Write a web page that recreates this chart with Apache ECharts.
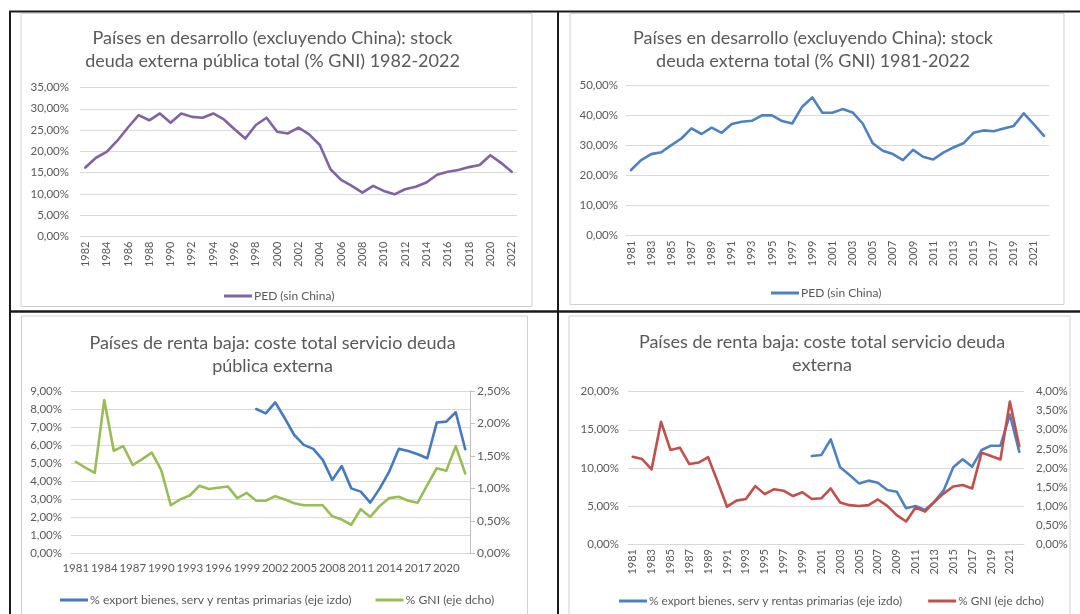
<!DOCTYPE html>
<html>
<head>
<meta charset="utf-8">
<script src="https://cdn.jsdelivr.net/npm/echarts@6/dist/echarts.min.js"></script>
<style>
  html, body { margin: 0; padding: 0; background: #ffffff; }
  #chart { width: 1080px; height: 614px; }
</style>
</head>
<body>
<div id="chart"></div>
<script>
// Year categories
const years1982 = ['1982','1983','1984','1985','1986','1987','1988','1989','1990','1991','1992','1993','1994','1995','1996','1997','1998','1999','2000','2001','2002','2003','2004','2005','2006','2007','2008','2009','2010','2011','2012','2013','2014','2015','2016','2017','2018','2019','2020','2021','2022'];
const years1981 = ['1981'].concat(years1982);

// Developing countries excl. China: public external debt stock, % GNI (1982-2022)
const pedPublicDebt = [16.2,18.5,19.9,22.5,25.6,28.5,27.3,28.9,26.7,28.9,28.1,27.9,28.9,27.5,25.2,23.0,26.2,27.9,24.6,24.2,25.6,24.0,21.5,15.8,13.3,11.9,10.3,11.9,10.7,9.9,11.1,11.7,12.7,14.5,15.2,15.6,16.3,16.8,19.1,17.3,15.2];

// Developing countries excl. China: total external debt stock, % GNI (1981-2022)
const pedTotalDebt = [21.9,25.2,27.2,27.8,30.2,32.4,35.8,33.9,36.0,34.3,37.2,38.0,38.3,40.1,40.1,38.2,37.4,43.0,46.1,41.0,41.0,42.2,41.1,37.4,30.8,28.3,27.2,25.2,28.6,26.3,25.4,27.7,29.4,30.8,34.3,35.1,34.8,35.7,36.6,40.8,37.1,33.3];

// Low income countries: public external debt service (1981-2022)
const lowPublicExports = [null,null,null,null,null,null,null,null,null,null,null,null,null,null,null,null,null,null,null,
  8.00,7.76,8.37,7.49,6.56,6.01,5.79,5.18,4.07,4.84,3.60,3.42,2.81,3.60,4.53,5.79,5.67,5.49,5.27,7.25,7.30,7.82,5.77];
const lowPublicGni = [1.41,1.32,1.24,2.36,1.58,1.65,1.36,1.45,1.55,1.28,0.74,0.83,0.89,1.04,0.99,1.01,1.03,0.85,0.93,0.81,0.81,0.88,0.83,0.77,0.74,0.74,0.74,0.57,0.52,0.44,0.68,0.56,0.73,0.85,0.87,0.81,0.78,1.05,1.31,1.27,1.65,1.23];

// Low income countries: total external debt service (1981-2022)
const lowTotalExports = [null,null,null,null,null,null,null,null,null,null,null,null,null,null,null,null,null,null,null,
  11.55,11.68,13.74,10.07,9.06,7.96,8.32,8.05,7.09,6.87,4.68,4.99,4.46,5.56,7.09,10.07,11.12,10.15,12.34,12.91,12.91,17.0,12.1];
const lowTotalGni = [2.29,2.23,1.96,3.21,2.47,2.53,2.10,2.14,2.28,1.64,0.98,1.14,1.18,1.52,1.31,1.44,1.40,1.26,1.36,1.18,1.20,1.46,1.09,1.02,1.00,1.02,1.17,1.00,0.76,0.59,0.96,0.85,1.11,1.33,1.51,1.55,1.46,2.40,2.31,2.22,3.74,2.57];

const NAME_PED = 'PED (sin China)';
const NAME_EXP = '% export bienes, serv y rentas primarias (eje izdo)';
const NAME_GNI = '% GNI (eje dcho)';

const C_PURPLE = '#8064a2';
const C_BLUE = '#4f81bd';
const C_BLUE2 = '#4679bd';
const C_GREEN = '#9bbb59';
const C_RED = '#c0504d';

const FONT = 'Lato, "Liberation Sans", sans-serif';
const TXT = '#595959';
const GRID = '#d9d9d9';

const pct = v => v.toFixed(2).replace('.', ',') + '%';

function catAxis(gridIndex, data, opts) {
  return Object.assign({
    type: 'category', gridIndex, data, boundaryGap: true,
    axisLine: { show: true, lineStyle: { color: GRID, width: 1 } },
    axisTick: { show: false },
    axisLabel: { color: TXT, fontFamily: FONT, fontSize: 11, rotate: 90, interval: 1, margin: 5 }
  }, opts || {});
}
function valAxis(gridIndex, max, interval, opts) {
  return Object.assign({
    type: 'value', gridIndex, min: 0, max, interval,
    axisLine: { show: false }, axisTick: { show: false },
    splitLine: { show: true, lineStyle: { color: GRID, width: 1 } },
    axisLabel: { color: TXT, fontFamily: FONT, fontSize: 11.5, formatter: pct, margin: 9 }
  }, opts || {});
}
function lineSeries(name, data, color, xi, yi) {
  return {
    type: 'line', name, data, xAxisIndex: xi, yAxisIndex: yi,
    showSymbol: false, symbol: 'none', connectNulls: false,
    lineStyle: { color, width: 2.6, join: 'round', cap: 'round' },
    itemStyle: { color }, emphasis: { disabled: true }, silent: true
  };
}
function title(text, cx, top) {
  return {
    text, left: cx, top, textAlign: 'center',
    textStyle: { color: TXT, fontFamily: FONT, fontSize: 18, fontWeight: 'normal', lineHeight: 23 }
  };
}
function legend(left, top, items, fontSize, gap) {
  return {
    left, top, orient: 'horizontal', icon: 'rect', itemWidth: 28, itemHeight: 3, itemGap: gap || 18,
    selectedMode: false,
    textStyle: { color: TXT, fontFamily: FONT, fontSize: fontSize || 12, padding: [0, 0, 0, -3] },
    data: items.map(([name, color]) => ({ name, itemStyle: { color }, lineStyle: { color } }))
  };
}

// Frame lines around the four panels
const frame = [
  { type: 'rect', shape: { x: 21, y: 13.5, width: 511, height: 293 }, style: { fill: null, stroke: '#d0d0d0', lineWidth: 1 } },
  { type: 'rect', shape: { x: 570, y: 13.5, width: 494, height: 291 }, style: { fill: null, stroke: '#d0d0d0', lineWidth: 1 } },
  { type: 'rect', shape: { x: 21.5, y: 316, width: 506, height: 310 }, style: { fill: null, stroke: '#d0d0d0', lineWidth: 1 } },
  { type: 'rect', shape: { x: 569, y: 316, width: 501, height: 310 }, style: { fill: null, stroke: '#d0d0d0', lineWidth: 1 } },
  { type: 'line', shape: { x1: 9, y1: 11.5, x2: 1080, y2: 11.5 }, style: { stroke: '#1a1a1a', lineWidth: 2 } },
  { type: 'line', shape: { x1: 10, y1: 11, x2: 10, y2: 614 }, style: { stroke: '#1a1a1a', lineWidth: 2 } },
  { type: 'line', shape: { x1: 558, y1: 11, x2: 558, y2: 614 }, style: { stroke: '#1a1a1a', lineWidth: 2 } },
  { type: 'line', shape: { x1: 9, y1: 311.5, x2: 1080, y2: 311.5 }, style: { stroke: '#1a1a1a', lineWidth: 2.5 } }
];

const option = {
  animation: false,
  backgroundColor: '#ffffff',
  graphic: { elements: frame },
  title: [
    title('Países en desarrollo (excluyendo China): stock\ndeuda externa pública total (% GNI) 1982-2022', 267.5, 22),
    title('Países en desarrollo (excluyendo China): stock\ndeuda externa total (% GNI) 1981-2022', 808, 22),
    title('Países de renta baja: coste total servicio deuda\npública externa', 267.5, 327),
    title('Países de renta baja: coste total servicio deuda\nexterna', 817, 326)
  ],
  legend: [
    legend(219, 285, [[NAME_PED, C_PURPLE]]),
    legend(766, 282, [[NAME_PED, C_BLUE]]),
    legend(55, 589, [[NAME_EXP, C_BLUE2], [NAME_GNI, C_GREEN]], 12.2, 24),
    legend(614, 590, [[NAME_EXP, C_BLUE], [NAME_GNI, C_RED]], 11.8, 26)
  ],
  grid: [
    { left: 80, top: 87.5, width: 437, height: 149, containLabel: false },
    { left: 626, top: 85.7, width: 423, height: 150, containLabel: false },
    { left: 71, top: 391, width: 399, height: 162.3, containLabel: false },
    { left: 628, top: 391.7, width: 396, height: 152.3, containLabel: false }
  ],
  xAxis: [
    catAxis(0, years1982),
    catAxis(1, years1981),
    catAxis(2, years1981, { axisLabel: { color: TXT, fontFamily: FONT, fontSize: 11.5, rotate: 0, interval: 2, margin: 9 } }),
    catAxis(3, years1981)
  ],
  yAxis: [
    valAxis(0, 35, 5, { axisLabel: { color: TXT, fontFamily: FONT, fontSize: 11.5, formatter: pct, margin: 11 } }),
    valAxis(1, 50, 10, { axisLabel: { color: TXT, fontFamily: FONT, fontSize: 11.5, formatter: pct, margin: 8 } }),
    valAxis(2, 9, 1),
    valAxis(2, 2.5, 0.5, {
      position: 'right',
      axisLine: { show: true, lineStyle: { color: '#bfbfbf', width: 1 } },
      axisTick: { show: true, length: 5, lineStyle: { color: '#bfbfbf' } },
      splitLine: { show: false },
      axisLabel: { color: TXT, fontFamily: FONT, fontSize: 12, formatter: pct, margin: 7 }
    }),
    valAxis(3, 20, 5),
    valAxis(3, 4, 0.5, {
      position: 'right', splitLine: { show: false },
      axisLabel: { color: TXT, fontFamily: FONT, fontSize: 11.5, formatter: pct, margin: 12 }
    })
  ],
  series: [
    lineSeries(NAME_PED, pedPublicDebt, C_PURPLE, 0, 0),
    lineSeries(NAME_PED, pedTotalDebt, C_BLUE, 1, 1),
    lineSeries(NAME_EXP, lowPublicExports, C_BLUE2, 2, 2),
    lineSeries(NAME_GNI, lowPublicGni, C_GREEN, 2, 3),
    lineSeries(NAME_EXP, lowTotalExports, C_BLUE, 3, 4),
    lineSeries(NAME_GNI, lowTotalGni, C_RED, 3, 5)
  ]
};

const chart = echarts.init(document.getElementById('chart'), null, { renderer: 'canvas' });
chart.setOption(option);
</script>
</body>
</html>
